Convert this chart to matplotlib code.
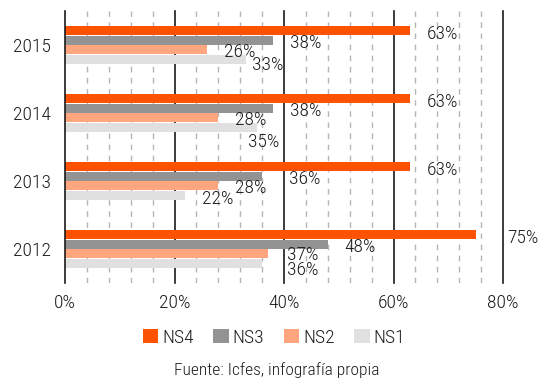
import matplotlib
matplotlib.use("Agg")
import matplotlib.pyplot as plt
from matplotlib.patches import Patch
import numpy as np

plt.rcParams['font.family'] = ['Roboto Condensed', 'DejaVu Sans']
plt.rcParams['font.weight'] = 300

years = ["2012", "2013", "2014", "2015"]
series = ["NS4", "NS3", "NS2", "NS1"]
ns4 = [75, 63, 63, 63]
ns3 = [48, 36, 38, 38]
ns2 = [37, 28, 28, 26]
ns1 = [36, 22, 35, 33]
xticks = [0, 20, 40, 60, 80]
xtick_labels = ["0%", "20%", "40%", "60%", "80%"]
source = "Fuente: Icfes, infografía propia"

colors = {"NS4": "#FF5200", "NS3": "#939393", "NS2": "#FFA67F", "NS1": "#E0E0E0"}
values = {"NS4": ns4, "NS3": ns3, "NS2": ns2, "NS1": ns1}
# label offsets in pixels (dx right, dy down) per series, with a few manual nudges
offs = {"NS4": (17, 3), "NS3": (17, 3), "NS2": (17, 2), "NS1": (17, 4)}
nudge = {("NS4", "2012"): (32, 3), ("NS3", "2013"): (27, 3),
         ("NS1", "2015"): (6, 6), ("NS1", "2014"): (-9, 15),
         ("NS1", "2012"): (25, 7), ("NS2", "2012"): (19, 1)}
text_color = "#1c1c1c"
fs = 14
px = 0.72  # points per pixel at dpi 100

fig = plt.figure(figsize=(5.42, 3.82), dpi=100)
ax = fig.add_axes([65/542, 1-283/382, (503-65)/542, (283-11)/382])

y = np.arange(len(years))
h = 0.14
shift = {"NS4": 1.5*h, "NS3": 0.5*h, "NS2": -0.5*h, "NS1": -1.5*h}

# grid lines
for v in range(4, 80, 4):
    if v % 20 != 0:
        ax.axvline(v, color="#b5b5b5", lw=1, ls=(0, (4, 4)), zorder=0)
for v in xticks:
    ax.axvline(v, color="#1a1a1a", lw=1.2, zorder=3 if v == 0 else 0, clip_on=False)

for s in series:
    ax.barh(y + shift[s], values[s], height=h*0.92, color=colors[s], zorder=2)
    for yi, yr, v in zip(y, years, values[s]):
        dx, dy = nudge.get((s, yr), offs[s])
        ax.annotate(f"{v}%", (v, yi + shift[s]), xytext=(dx*px, -dy*px), textcoords="offset points",
                    ha="left", va="center", fontsize=fs, color=text_color, zorder=4)

ax.set_xlim(0, 80)
ax.set_ylim(-0.5, 3.5)
ax.set_xticks(xticks)
ax.set_xticklabels(xtick_labels)
ax.set_yticks(y)
ax.set_yticklabels(years)
ax.tick_params(axis="both", length=0, labelsize=fs, colors=text_color)
ax.tick_params(axis="x", pad=8)
ax.tick_params(axis="y", pad=10)
for sp in ax.spines.values():
    sp.set_visible(False)

handles = [Patch(facecolor=colors[s], edgecolor="none", label=s) for s in series]
fig.legend(handles=handles, loc="center", bbox_to_anchor=(274/542, 1-338/382), ncol=4,
           frameon=False, fontsize=fs, handlelength=0.8, handleheight=0.7,
           handletextpad=0.2, columnspacing=1.0, labelcolor=text_color)

fig.text(277/542, 1-370/382, source, ha="center", va="center", fontsize=12.5, color=text_color)

fig.savefig("out.png", dpi=100)
